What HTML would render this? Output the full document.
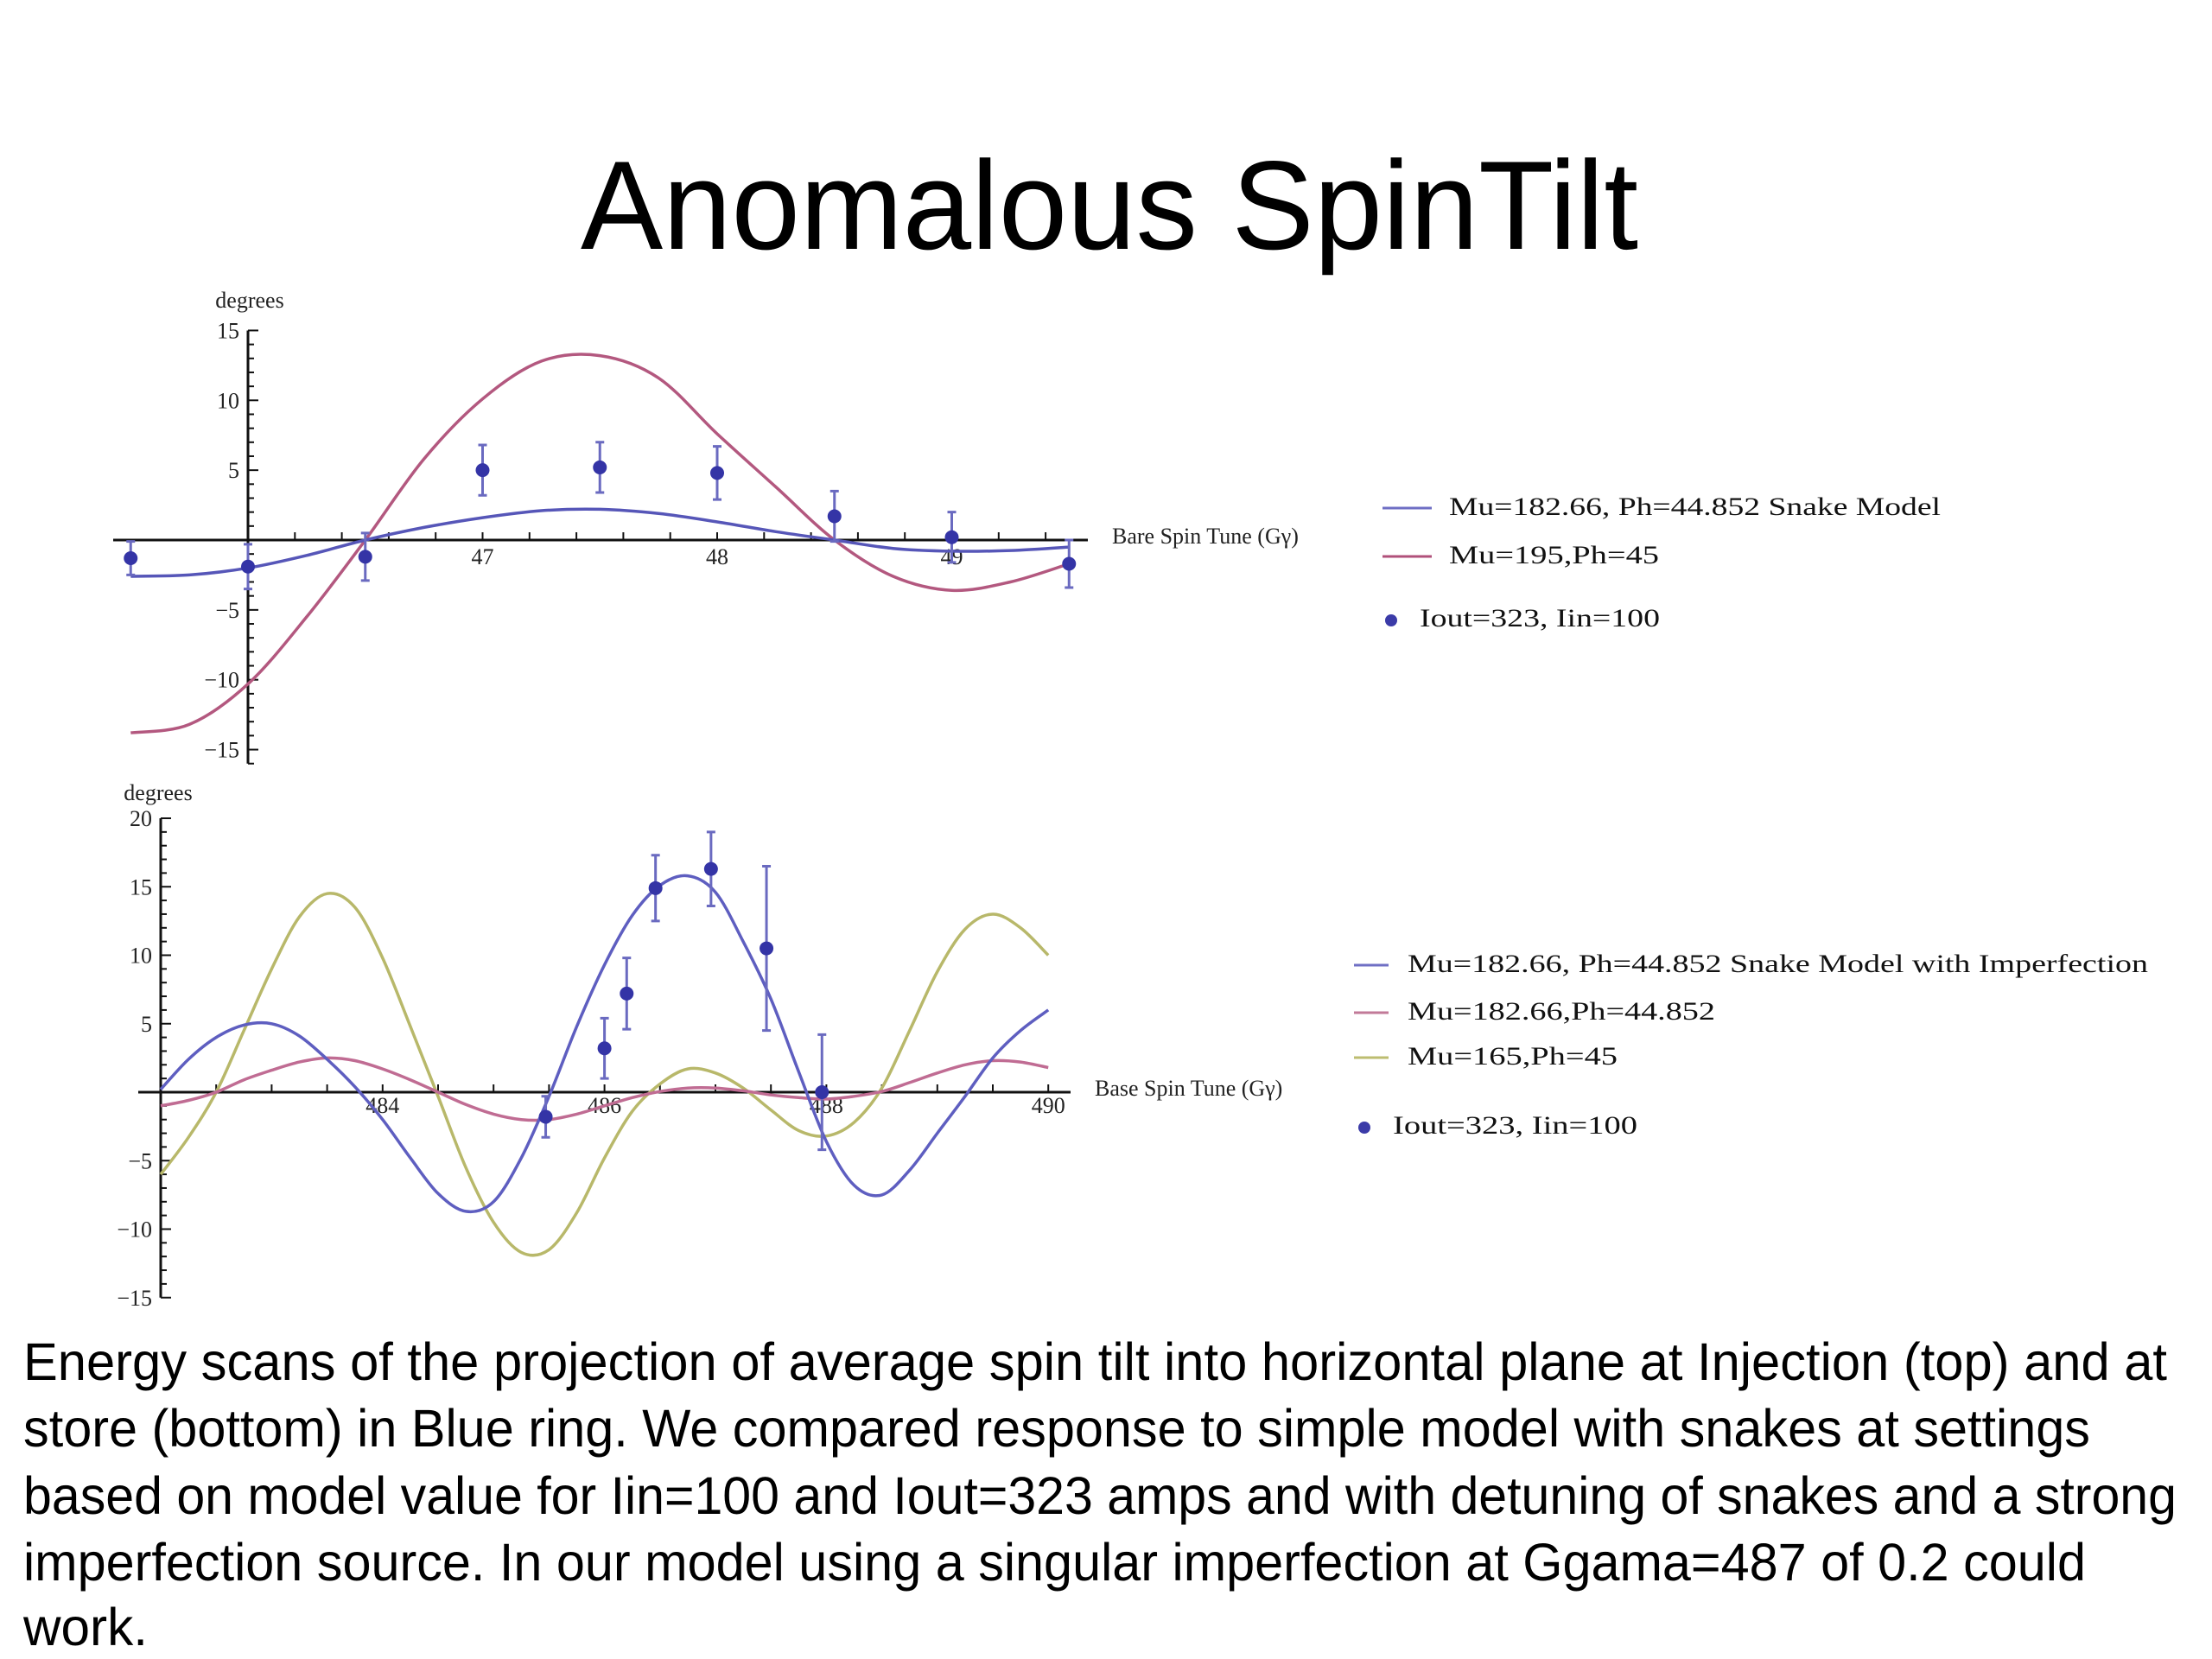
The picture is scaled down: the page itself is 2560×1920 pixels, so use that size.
<!DOCTYPE html>
<html><head><meta charset="utf-8"><style>
html,body{margin:0;padding:0;background:#fff;}
svg{display:block;}
.tick{font-family:"Liberation Serif",serif;font-size:26px;fill:#222;}
.leg{font-family:"Liberation Serif",serif;font-size:30px;fill:#111;}
.cap{font-family:"Liberation Sans",sans-serif;font-size:61px;fill:#000;}
</style></head><body>
<svg id="s" width="2560" height="1920" viewBox="0 0 2560 1920" xmlns="http://www.w3.org/2000/svg">
<text x="672" y="288" font-family="Liberation Sans, sans-serif" font-size="146" textLength="1224" lengthAdjust="spacingAndGlyphs">Anomalous SpinTilt</text>
<g id="top"></g>
<g id="bot"></g>
<g>
<line x1="1600" y1="588" x2="1657" y2="588" stroke="#6f6fc4" stroke-width="3"/>
<text class="leg" x="1677" y="596" textLength="569" lengthAdjust="spacingAndGlyphs">Mu=182.66, Ph=44.852 Snake Model</text>
<line x1="1600" y1="644" x2="1657" y2="644" stroke="#b0507a" stroke-width="3"/>
<text class="leg" x="1677" y="652" textLength="243" lengthAdjust="spacingAndGlyphs">Mu=195,Ph=45</text>
<circle cx="1610" cy="718" r="7" fill="#3b3ba8"/>
<text class="leg" x="1643" y="725" textLength="278" lengthAdjust="spacingAndGlyphs">Iout=323, Iin=100</text>
</g>
<g>
<line x1="1567" y1="1117" x2="1607" y2="1117" stroke="#6f6fc4" stroke-width="3"/>
<text class="leg" x="1629" y="1125" textLength="857" lengthAdjust="spacingAndGlyphs">Mu=182.66, Ph=44.852 Snake Model with Imperfection</text>
<line x1="1567" y1="1172" x2="1607" y2="1172" stroke="#c27a98" stroke-width="3"/>
<text class="leg" x="1629" y="1180" textLength="356" lengthAdjust="spacingAndGlyphs">Mu=182.66,Ph=44.852</text>
<line x1="1567" y1="1224" x2="1607" y2="1224" stroke="#bdbd70" stroke-width="3"/>
<text class="leg" x="1629" y="1232" textLength="243" lengthAdjust="spacingAndGlyphs">Mu=165,Ph=45</text>
<circle cx="1579" cy="1305" r="7" fill="#3b3ba8"/>
<text class="leg" x="1612" y="1312" textLength="283" lengthAdjust="spacingAndGlyphs">Iout=323, Iin=100</text>
</g>
<g>
<text class="cap" x="27" y="1597" textLength="2481" lengthAdjust="spacingAndGlyphs">Energy scans of the projection of average spin tilt into horizontal plane at Injection (top) and at</text>
<text class="cap" x="27" y="1674" textLength="2392" lengthAdjust="spacingAndGlyphs">store (bottom) in Blue ring. We compared response to simple model with snakes at settings</text>
<text class="cap" x="27" y="1752" textLength="2492" lengthAdjust="spacingAndGlyphs">based on model value for Iin=100 and Iout=323 amps and with detuning of snakes and a strong</text>
<text class="cap" x="27" y="1829" textLength="2387" lengthAdjust="spacingAndGlyphs">imperfection source. In our model using a singular imperfection at Ggama=487 of 0.2 could</text>
<text class="cap" x="27" y="1904" textLength="144" lengthAdjust="spacingAndGlyphs">work.</text>
</g>
</svg>
<script>
// ---- top chart data ----
const topCurveX = [45.5,45.75,46,46.25,46.5,46.75,47,47.25,47.5,47.75,48,48.25,48.5,48.75,49,49.25,49.5];
const topSnake = [-2.6,-2.5,-2.0,-1.1,0,0.9,1.6,2.1,2.2,1.9,1.3,0.6,0,-0.6,-0.8,-0.75,-0.5];
const topMu195 = [-13.8,-13.2,-10.3,-5.5,0,5.8,10.1,12.8,13.2,11.6,7.6,3.8,0,-2.6,-3.6,-3.0,-1.7];
const topDataX = [45.5,46,46.5,47,47.5,48,48.5,49,49.5];
const topDataY = [-1.3,-1.9,-1.2,5.0,5.2,4.8,1.7,0.2,-1.7];
const topDataErr = [1.2,1.6,1.7,1.8,1.8,1.9,1.8,1.8,1.7];
const topXTicks = [47,48,49];
const topYTicks = [15,10,5,-5,-10,-15];
// ---- bottom chart data ----
const botCurveX = [482,482.25,482.5,482.75,483,483.25,483.5,483.75,484,484.25,484.5,484.75,485,485.25,485.5,485.75,486,486.25,486.5,486.75,487,487.25,487.5,487.75,488,488.25,488.5,488.75,489,489.25,489.5,489.75,490];
const botImperf = [0.2,2.4,4.0,4.9,5.0,4.1,2.4,0.4,-2.0,-4.8,-7.4,-8.7,-8.0,-4.8,-0.3,4.8,9.3,12.9,15.1,15.8,14.6,11.0,6.8,1.5,-3.6,-6.8,-7.5,-5.7,-3.0,-0.3,2.5,4.5,6.0];
const botMu182 = [-1.0,-0.6,0,0.9,1.6,2.2,2.5,2.3,1.7,0.9,0,-0.9,-1.6,-2.0,-2.0,-1.6,-1.0,-0.4,0.05,0.3,0.3,0.1,-0.2,-0.4,-0.5,-0.3,0.05,0.7,1.4,2.0,2.3,2.2,1.8];
const botMu165 = [-6.0,-3.3,0,4.5,9.0,12.8,14.5,13.5,9.8,4.8,-0.3,-5.5,-9.5,-11.7,-11.5,-8.8,-4.8,-1.4,0.6,1.7,1.4,0.3,-1.3,-2.8,-3.2,-2.2,0.3,4.5,8.8,11.9,13.0,12.0,10.0];
const botDataX = [485.47,486,486.2,486.46,486.96,487.46,487.96];
const botDataY = [-1.8,3.2,7.2,14.9,16.3,10.5,0];
const botDataErr = [1.5,2.2,2.6,2.4,2.7,6.0,4.2];
const botXTicks = [484,486,488,490];
const botYTicks = [20,15,10,5,-5,-10,-15];

const NS='http://www.w3.org/2000/svg';
function mk(parent,tag,attrs){const e=document.createElementNS(NS,tag);for(const k in attrs)e.setAttribute(k,attrs[k]);parent.appendChild(e);return e;}
function smooth(pts){let d='M'+pts[0][0].toFixed(1)+','+pts[0][1].toFixed(1);
 for(let i=0;i<pts.length-1;i++){const p0=pts[i-1]||pts[i],p1=pts[i],p2=pts[i+1],p3=pts[i+2]||p2;
  const c1=[p1[0]+(p2[0]-p0[0])/6,p1[1]+(p2[1]-p0[1])/6],c2=[p2[0]-(p3[0]-p1[0])/6,p2[1]-(p3[1]-p1[1])/6];
  d+=' C'+c1[0].toFixed(1)+','+c1[1].toFixed(1)+' '+c2[0].toFixed(1)+','+c2[1].toFixed(1)+' '+p2[0].toFixed(1)+','+p2[1].toFixed(1);}
 return d;}

function chart(g,cfg){
 const sx=v=>cfg.x0px+(v-cfg.x0)*cfg.xu, sy=v=>cfg.y0px-v*cfg.yu;
 let a=mk(g,'line',{x1:cfg.axL,y1:sy(0),x2:cfg.axR,y2:sy(0),stroke:'#111','stroke-width':3});
 
 
 a=mk(g,'line',{x1:sx(cfg.x0),y1:sy(cfg.yTop),x2:sx(cfg.x0),y2:sy(cfg.yBot),stroke:'#111','stroke-width':3});
 
 
 for(let v=cfg.x0+cfg.xMinor;v<=cfg.xMax+1e-6;v+=cfg.xMinor){
  const t=mk(g,'line',{x1:sx(v),y1:sy(0)-9,x2:sx(v),y2:sy(0),stroke:'#111','stroke-width':2});
  
  }
 for(let v=cfg.yBot;v<=cfg.yTop;v+=1){
  const big=(v%5===0);
  const t=mk(g,'line',{x1:sx(cfg.x0),y1:sy(v),x2:sx(cfg.x0)+(big?12:7),y2:sy(v),stroke:'#111','stroke-width':2});
  
  }
 cfg.xTicks.forEach(v=>{const t=mk(g,'text',{x:sx(v),y:sy(0)+cfg.xLabOff,'text-anchor':'middle',class:'tick'});t.textContent=String(v);
  
  });
 cfg.yTicks.forEach(v=>{const t=mk(g,'text',{x:sx(cfg.x0)-10,y:sy(v)+9,'text-anchor':'end',class:'tick'});t.textContent=(v<0?'\u2212':'')+Math.abs(v);
  
  });
 let t=mk(g,'text',{x:cfg.degX,y:cfg.degY,'text-anchor':'middle',class:'tick'});t.textContent='degrees';
 
 
 t=mk(g,'text',{x:cfg.axR+28,y:sy(0)+4,class:'tick'});t.textContent=cfg.xTitle;
 
 
 cfg.series.forEach(s=>{const p=mk(g,'path',{d:smooth(s.ys.map((y,i)=>[sx(s.xs[i]),sy(y)])),fill:'none',stroke:s.color,'stroke-width':3.5});
  
  });
 cfg.dx.forEach((x,i)=>{const X=sx(x),Y=sy(cfg.dy[i]),e=cfg.de[i];
  const l=mk(g,'path',{d:`M${X},${sy(cfg.dy[i]+e)}V${sy(cfg.dy[i]-e)}M${X-5},${sy(cfg.dy[i]+e)}H${X+5}M${X-5},${sy(cfg.dy[i]-e)}H${X+5}`,stroke:'#6a6ac0','stroke-width':3,fill:'none'});
  
  
  const c=mk(g,'circle',{cx:X,cy:Y,r:8,fill:'#3434a6'});
  
  });
}
chart(document.getElementById('top'),{x0:46,x0px:287,xu:271.5,y0px:625,yu:16.17,axL:131,axR:1259,xMax:49.55,xMinor:0.2,yTop:15,yBot:-16,xLabOff:28,
 xTicks:topXTicks,yTicks:topYTicks,degX:289,degY:356,xTitle:'Bare Spin Tune (G\u03b3)',
 series:[{xs:topCurveX,ys:topMu195,color:'#b3587f',name:'curve-mu195'},{xs:topCurveX,ys:topSnake,color:'#5656b8',name:'curve-snake-model'}],
 dx:topDataX,dy:topDataY,de:topDataErr});
chart(document.getElementById('bot'),{x0:482,x0px:186,xu:128.4,y0px:1264,yu:15.85,axL:160,axR:1239,xMax:490,xMinor:0.5,yTop:20,yBot:-15,xLabOff:24,
 xTicks:botXTicks,yTicks:botYTicks,degX:183,degY:926,xTitle:'Base Spin Tune (G\u03b3)',
 series:[{xs:botCurveX,ys:botMu165,color:'#b8b86a',name:'curve-mu165'},{xs:botCurveX,ys:botMu182,color:'#c06c93',name:'curve-mu182'},{xs:botCurveX,ys:botImperf,color:'#5e5ec0',name:'curve-imperfection'}],
 dx:botDataX,dy:botDataY,de:botDataErr});
</script>
</body></html>
